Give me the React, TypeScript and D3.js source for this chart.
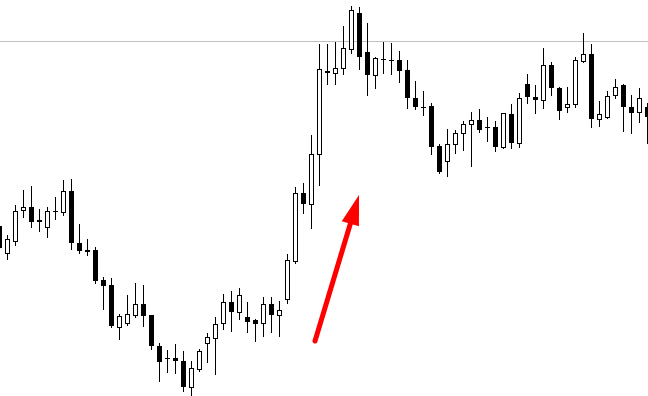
import React from "react";
import * as d3 from "d3";

const W = 648;
const H = 396;

// OHLC series, one entry per bar
const open = [
  1.0974, 1.0947, 1.0959, 1.099, 1.0993, 1.098, 1.0973, 1.0989, 1.0988, 1.1009,
  1.0957, 1.095, 1.095, 1.092, 1.0915, 1.0873, 1.0877, 1.0885, 1.0896, 1.0885,
  1.0854, 1.0842, 1.0842, 1.0839, 1.0813, 1.0831, 1.0857, 1.0862, 1.0877, 1.0898,
  1.0888, 1.0883, 1.088, 1.0877, 1.0896, 1.0885, 1.0901, 1.0939, 1.1007, 1.0996,
  1.1046, 1.1129, 1.1127, 1.1132, 1.1151, 1.1187, 1.1148, 1.1125, 1.1141, 1.114,
  1.114, 1.113, 1.1102, 1.1093, 1.1094, 1.1054, 1.1039, 1.1056, 1.1067, 1.1076,
  1.108, 1.1073, 1.1073, 1.1053, 1.1086, 1.1057, 1.1116, 1.1103, 1.11, 1.1135,
  1.1112, 1.1093, 1.1096, 1.1139, 1.1146, 1.1081, 1.1083, 1.1105, 1.1115, 1.1093,
  1.1088, 1.1093,
];
const high = [
  1.0978, 1.0965, 1.0995, 1.101, 1.1014, 1.0991, 1.0993, 1.1003, 1.102, 1.1021,
  1.0976, 1.0961, 1.0953, 1.0923, 1.0922, 1.0886, 1.0905, 1.0917, 1.0915, 1.0885,
  1.0857, 1.085, 1.0856, 1.0849, 1.0839, 1.0851, 1.0867, 1.0883, 1.0906, 1.0909,
  1.0912, 1.0898, 1.0881, 1.0903, 1.0903, 1.0899, 1.0946, 1.1013, 1.1017, 1.1065,
  1.1156, 1.1156, 1.1158, 1.1174, 1.1194, 1.1193, 1.1177, 1.1143, 1.1158, 1.1157,
  1.1149, 1.114, 1.1119, 1.1109, 1.1097, 1.1056, 1.1071, 1.107, 1.1079, 1.1088,
  1.1091, 1.1083, 1.1079, 1.1087, 1.1096, 1.1107, 1.1126, 1.1115, 1.1152, 1.1138,
  1.1113, 1.1113, 1.1143, 1.1167, 1.1156, 1.1099, 1.1109, 1.1121, 1.1116, 1.1105,
  1.1112, 1.1097,
];
const low = [
  1.0948, 1.0941, 1.0955, 1.0983, 1.0973, 1.0969, 1.0963, 1.0981, 1.0985, 1.0951,
  1.0947, 1.0945, 1.0917, 1.0891, 1.0873, 1.0861, 1.0875, 1.0883, 1.0874, 1.0851,
  1.0819, 1.0828, 1.0827, 1.0809, 1.0805, 1.0829, 1.0838, 1.0826, 1.0871, 1.0869,
  1.0881, 1.0868, 1.0859, 1.0864, 1.0868, 1.0864, 1.0897, 1.0937, 1.0987, 1.0972,
  1.1015, 1.1116, 1.1116, 1.1126, 1.1147, 1.1131, 1.1105, 1.1112, 1.1127, 1.1126,
  1.1118, 1.1092, 1.1091, 1.1085, 1.1046, 1.1027, 1.1024, 1.1047, 1.105, 1.1034,
  1.1068, 1.1059, 1.1049, 1.1052, 1.1052, 1.1053, 1.1097, 1.1087, 1.1092, 1.1105,
  1.1081, 1.1088, 1.1093, 1.1138, 1.1073, 1.1074, 1.1082, 1.1102, 1.1069, 1.1067,
  1.1078, 1.1057,
];
const close = [
  1.0952, 1.0961, 1.0989, 1.0993, 1.0978, 1.0978, 1.0989, 1.0989, 1.1009, 1.0957,
  1.0949, 1.0948, 1.0919, 1.0914, 1.0874, 1.0884, 1.0886, 1.0896, 1.0884, 1.0854,
  1.0838, 1.0842, 1.0839, 1.0813, 1.0832, 1.0849, 1.0863, 1.0876, 1.0898, 1.0888,
  1.0905, 1.0878, 1.0876, 1.0896, 1.0885, 1.089, 1.094, 1.1007, 1.0996, 1.1046,
  1.1131, 1.1127, 1.1132, 1.1152, 1.119, 1.1143, 1.1125, 1.1142, 1.1141, 1.114,
  1.1129, 1.1102, 1.1093, 1.1093, 1.1053, 1.1028, 1.1056, 1.1067, 1.1076, 1.108,
  1.107, 1.1073, 1.1053, 1.1087, 1.1057, 1.1102, 1.1103, 1.11, 1.1135, 1.1112,
  1.1089, 1.1096, 1.114, 1.1146, 1.1081, 1.1086, 1.1104, 1.1113, 1.1093, 1.1087,
  1.1102, 1.1083,
];

// Horizontal resistance level
const levelPrice = 1.1159;

// Arrow annotation, in bar index / price terms
const arrowFrom = { bar: 39.5, price: 1.0859 };
const arrowTo = { bar: 45.0, price: 1.1005 };

export default function App() {
  const n = open.length;
  const x = d3.scaleLinear().domain([0, n - 1]).range([-1, 647]);
  const y = d3.scaleLinear().domain([1.08, 1.12]).range([400, 0]);

  const levelY = Math.round(y(levelPrice)) + 0.5;

  // Arrow geometry
  const ax0 = x(arrowFrom.bar);
  const ay0 = y(arrowFrom.price);
  const ax1 = x(arrowTo.bar);
  const ay1 = y(arrowTo.price);
  const dx = ax1 - ax0;
  const dy = ay1 - ay0;
  const len = Math.hypot(dx, dy);
  const ux = dx / len;
  const uy = dy / len;
  const headLen = 30;
  const headHalf = 9;
  const bx = ax1 - ux * headLen;
  const by = ay1 - uy * headLen;
  const px = -uy;
  const py = ux;
  const head = [
    [ax1, ay1],
    [bx + px * headHalf, by + py * headHalf],
    [bx - px * headHalf, by - py * headHalf],
  ];

  return (
    <svg
      width={W}
      height={H}
      style={{ position: "absolute", left: 0, top: 0, background: "#fff" }}
      shapeRendering="crispEdges"
    >
      <rect x={0} y={0} width={W} height={H} fill="#fff" />
      <line x1={0} x2={W} y1={levelY} y2={levelY} stroke="#c0c0c0" strokeWidth={1} />
      {open.map((o, i) => {
        const c = close[i];
        const cx = Math.round(x(i));
        const yH = Math.round(y(high[i]));
        const yL = Math.round(y(low[i]));
        const yTop = Math.round(y(Math.max(o, c)));
        const yBot = Math.round(y(Math.min(o, c)));
        const up = c > o;
        const bodyH = Math.max(1, yBot - yTop);
        return (
          <g key={i}>
            <rect x={cx} y={yH} width={1} height={yL - yH + 1} fill="#000" />
            {up && bodyH > 2 ? (
              <rect
                x={cx - 1.5}
                y={yTop + 0.5}
                width={4}
                height={bodyH}
                fill="#fff"
                stroke="#000"
                strokeWidth={1}
              />
            ) : (
              <rect x={cx - 2} y={yTop} width={5} height={up ? bodyH + 1 : bodyH} fill="#000" />
            )}
          </g>
        );
      })}
      <g shapeRendering="auto">
        <line
          x1={ax0}
          y1={ay0}
          x2={bx}
          y2={by}
          stroke="#ff0000"
          strokeWidth={5}
          strokeLinecap="round"
        />
        <polygon points={head.map((p) => p.join(",")).join(" ")} fill="#ff0000" />
      </g>
    </svg>
  );
}
